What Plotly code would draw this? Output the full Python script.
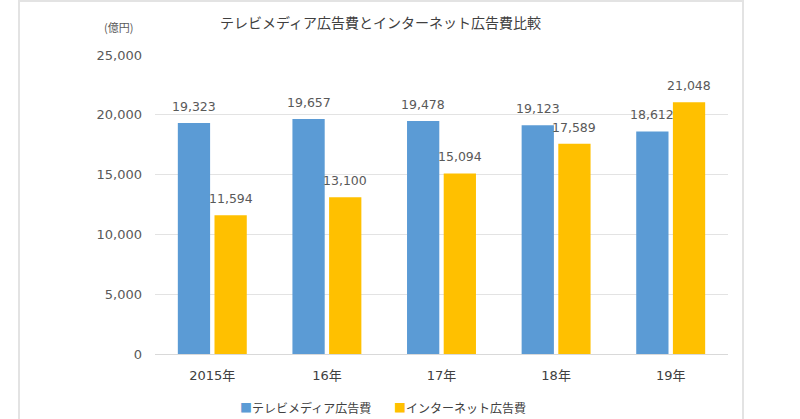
import plotly.graph_objects as go

categories = ["2015年", "16年", "17年", "18年", "19年"]
tv_values = [19323, 19657, 19478, 19123, 18612]
net_values = [11594, 13100, 15094, 17589, 21048]
series_names = ["テレビメディア広告費", "インターネット広告費"]
y_ticks = [0, 5000, 10000, 15000, 20000, 25000]
colors = ["#5B9BD5", "#FFC000"]

FONT = "Noto Sans CJK JP, Noto Sans, sans-serif"
NUMFONT = "DejaVu Sans, Verdana, sans-serif"

L, R, T, B = 155, 72, 55, 65
W, H = 800, 419
pw, ph = W - L - R, H - T - B
BARGAP = 0.36


def px(x):
    return (x - L) / pw


def py(y):
    return (H - B - y) / ph


fig = go.Figure()
for name, vals, col in [(series_names[0], tv_values, colors[0]),
                        (series_names[1], net_values, colors[1])]:
    fig.add_trace(go.Bar(
        x=categories, y=vals, name=name,
        marker=dict(color=col, line=dict(width=0)),
    ))

# value labels above each bar (offset to each bar's slot within the group)
slot = pw / len(categories) * (1 - BARGAP) / 2
annotations = []
for k, vals in enumerate([tv_values, net_values]):
    shift = (k - 0.5) * slot
    for c, v in zip(categories, vals):
        annotations.append(dict(
            x=c, y=v, xref="x", yref="y", text=f"{v:,}", showarrow=False,
            xanchor="center", yanchor="bottom", xshift=shift, yshift=7,
            font=dict(size=12.5, color="#595959", family=NUMFONT)))

annotations += [
    dict(text="テレビメディア広告費とインターネット広告費比較", xref="paper", yref="paper",
         x=px(380), y=py(22), xanchor="center", yanchor="middle",
         showarrow=False, font=dict(size=14, color="#404040", family=FONT)),
    dict(text="(億円)", xref="paper", yref="paper",
         x=px(118), y=py(27), xanchor="center", yanchor="middle",
         showarrow=False, font=dict(size=11, color="#595959", family=FONT)),
    dict(text=f'<span style="color:{colors[0]}">■</span>{series_names[0]}',
         xref="paper", yref="paper", x=px(238), y=py(408),
         xanchor="left", yanchor="middle", showarrow=False,
         font=dict(size=12, color="#404040", family=FONT)),
    dict(text=f'<span style="color:{colors[1]}">■</span>{series_names[1]}',
         xref="paper", yref="paper", x=px(392), y=py(408),
         xanchor="left", yanchor="middle", showarrow=False,
         font=dict(size=12, color="#404040", family=FONT)),
]

fig.update_layout(
    width=W, height=H,
    margin=dict(l=L, r=R, t=T, b=B, autoexpand=False),
    paper_bgcolor="white", plot_bgcolor="white",
    barmode="group", bargap=BARGAP, bargroupgap=0.12,
    font=dict(family=FONT, color="#595959"),
    showlegend=False,
    xaxis=dict(tickfont=dict(size=13, color="#404040", family=NUMFONT + ", " + FONT),
               showline=False, ticks="", showgrid=False, automargin=False,
               ticklabelstandoff=12),
    yaxis=dict(range=[0, 25000], tickvals=y_ticks, tickformat=",",
               tickfont=dict(size=13, color="#595959", family=NUMFONT),
               showgrid=True, gridcolor="#e3e3e3", gridwidth=1,
               zeroline=True, zerolinecolor="#d9d9d9", zerolinewidth=1,
               ticks="", ticklabelstandoff=12, automargin=False),
    annotations=annotations,
    shapes=[
        dict(type="rect", xref="paper", yref="paper",
             x0=px(19), x1=px(743), y0=py(430), y1=py(1),
             line=dict(color="#e3e3e3", width=2), fillcolor="rgba(0,0,0,0)", layer="below"),
    ],
)

fig.write_html("out.html", config={"displayModeBar": False},
               post_script="document.body.style.margin='0';document.body.style.overflow='hidden';")
